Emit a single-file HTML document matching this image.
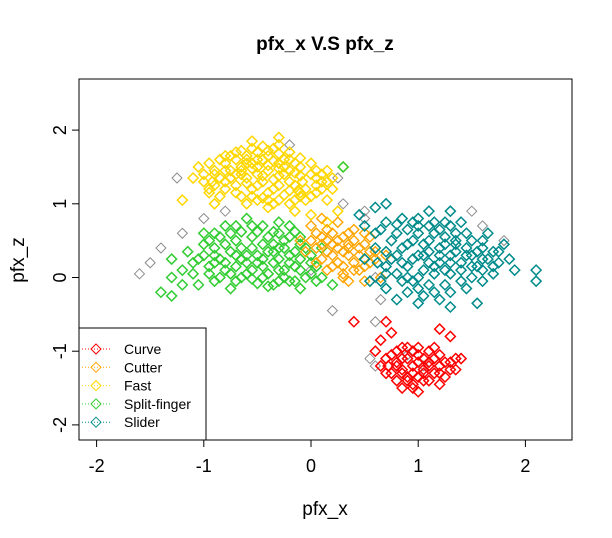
<!DOCTYPE html>
<html><head><meta charset="utf-8"><style>
body{margin:0;background:#fff;}
svg{display:block;font-family:"Liberation Sans",Arial,sans-serif;}
</style></head><body>
<svg id="chart" width="612" height="538">
<text x="325" y="50" text-anchor="middle" font-size="19" font-weight="bold">pfx_x V.S pfx_z</text>
<text x="325" y="515" text-anchor="middle" font-size="19">pfx_x</text>
<text transform="translate(24,260) rotate(-90)" text-anchor="middle" font-size="19">pfx_z</text>
<g id="marks"></g>
<rect x="79" y="79" width="493" height="361" fill="none" stroke="#000"/>
<g id="axes"></g>
<g id="legend"></g>
</svg>
<script>
const xTicks=[-2,-1,0,1,2];
const yTicks=[-2,-1,0,1,2];
const seriesNames=["Curve","Cutter","Fast","Split-finger","Slider"];
const seriesColors=["#FF0000","#FFA500","#FFD700","#32CD32","#008B8B"];
const grayPts=[[-1.25,1.35],[-1.6,0.05],[-1.5,0.2],[-1.4,0.4],[-1.2,0.6],[-1.0,0.8],[-0.8,0.9],[-0.2,1.8],[0.25,1.35],[0.3,1.0],[0.5,0.9],[0.5,0.8],[0.6,0.0],[0.65,-0.3],[0.6,-0.6],[0.55,-1.1],[0.6,-1.2],[1.8,0.5],[1.6,0.7],[1.5,0.9],[0.2,-0.45],[0.0,0.1],[-0.3,0.1],[-0.6,1.0],[0.9,-1.05],[1.05,-1.2]];
const fastPts=[[-0.9,1.45],[-0.8,1.55],[-0.7,1.6],[-0.6,1.65],[-0.5,1.7],[-0.4,1.72],[-0.3,1.68],[-0.2,1.6],[-0.1,1.5],[0.0,1.4],[0.1,1.3],[0.05,1.15],[-0.05,1.05],[-0.2,1.0],[-0.35,1.0],[-0.5,1.05],[-0.65,1.1],[-0.8,1.2],[-0.92,1.3],[-1.0,1.4],[-0.85,1.35],[-0.75,1.45],[-0.65,1.5],[-0.55,1.55],[-0.45,1.6],[-0.35,1.58],[-0.25,1.5],[-0.15,1.42],[-0.08,1.3],[-0.12,1.18],[-0.25,1.12],[-0.4,1.15],[-0.55,1.2],[-0.7,1.25],[-0.6,1.35],[-0.5,1.4],[-0.4,1.45],[-0.3,1.38],[-0.2,1.3],[-0.3,1.25],[-0.45,1.3],[-0.35,1.33],[-0.7,1.4],[-0.8,1.3],[-0.55,1.48],[-0.25,1.6],[-0.15,1.55],[0.05,1.25],[-0.95,1.2],[-0.7,1.7],[-0.45,1.78],[-0.3,1.8],[-0.6,1.0],[-0.4,0.95],[0.15,1.05],[0.2,1.2],[0.3,1.5],[-1.05,1.5],[-1.2,1.05],[-0.9,1.0],[-0.15,0.9],[0.0,0.85],[0.25,0.9],[0.15,0.75],[-0.3,1.9],[-0.55,1.85],
[-0.95,1.55],[-0.85,1.6],[-0.75,1.65],[-0.65,1.72],[-0.55,1.75],[-0.4,1.65],[-0.35,1.75],[-0.2,1.7],[-0.1,1.62],[0.0,1.55],[0.05,1.45],[0.1,1.4],[0.15,1.3],[0.1,1.2],[0.0,1.1],[-0.1,1.1],[-0.15,1.05],[-0.3,1.05],[-0.45,1.08],[-0.55,1.1],[-0.7,1.15],[-0.85,1.1],[-1.0,1.3],[-0.9,1.4],[-0.8,1.45],[-0.65,1.45],[-0.6,1.55],[-0.5,1.6],[-0.4,1.52],[-0.3,1.48],[-0.2,1.45],[-0.1,1.38],[-0.05,1.2],[-0.15,1.25],[-0.35,1.2],[-0.5,1.25],[-0.6,1.28],[-0.75,1.35],[-0.65,1.4],[-0.45,1.38],[-0.25,1.4],[-0.1,1.15],[-0.2,1.18],[-0.4,1.05],[-0.6,1.6],[-0.8,1.65],[-0.3,1.55],[-0.5,1.5],[0.05,1.35],[-0.9,1.25],[-0.95,1.15],[-1.1,1.35],[0.15,1.45],[0.2,1.35]];
const splitPts=[[-1.0,0.3],[-0.9,0.4],[-0.8,0.45],[-0.7,0.5],[-0.55,0.55],[-0.4,0.55],[-0.25,0.5],[-0.1,0.45],[0.0,0.3],[0.05,0.15],[-0.05,0.0],[-0.2,-0.05],[-0.35,-0.1],[-0.5,-0.08],[-0.65,0.0],[-0.8,0.1],[-0.95,0.15],[-0.85,0.25],[-0.7,0.3],[-0.6,0.2],[-0.5,0.3],[-0.4,0.35],[-0.3,0.25],[-0.2,0.3],[-0.15,0.15],[-0.3,0.1],[-0.45,0.15],[-0.55,0.4],[-0.35,0.45],[-0.7,0.15],[-0.25,0.0],[-0.45,0.0],[-0.6,0.05],[-1.1,0.2],[-1.2,0.1],[-1.3,0.0],[-1.4,-0.2],[-1.3,0.25],[-1.0,0.6],[-0.8,0.7],[-0.6,0.8],[-0.45,0.7],[-0.3,0.75],[0.1,0.0],[-0.1,-0.15],[-0.9,-0.05],[-1.05,-0.1],[-0.75,-0.15],[0.2,-0.1],[0.1,0.4],[-0.3,0.6],[-1.3,-0.25],[0.3,1.5],[-0.15,0.62],
[-1.0,0.45],[-0.95,0.5],[-0.85,0.55],[-0.75,0.6],[-0.65,0.62],[-0.5,0.62],[-0.35,0.62],[-0.2,0.55],[-0.05,0.4],[0.0,0.2],[0.0,0.05],[-0.1,0.1],[-0.15,-0.05],[-0.3,-0.05],[-0.4,-0.12],[-0.55,-0.02],[-0.7,-0.05],[-0.85,0.0],[-0.95,0.05],[-1.05,0.25],[-0.9,0.3],[-0.75,0.35],[-0.65,0.4],[-0.45,0.45],[-0.25,0.4],[-0.15,0.35],[-0.1,0.25],[-0.2,0.2],[-0.35,0.2],[-0.5,0.2],[-0.65,0.25],[-0.8,0.2],[-0.9,0.2],[-0.55,0.1],[-0.4,0.05],[-0.25,0.1],[-0.75,0.05],[-0.35,0.35],[-0.6,0.3],[-0.45,0.25],[-0.3,0.4],[-0.1,0.55],[-1.15,0.35],[-1.2,-0.1],[-1.1,0.05],[-0.55,0.7],[-0.7,0.7],[-0.9,0.6],[-0.2,0.7],[0.05,-0.05]];
const cutterPts=[[0.0,0.5],[0.1,0.55],[0.2,0.6],[0.3,0.55],[0.4,0.5],[0.5,0.45],[0.6,0.35],[0.55,0.2],[0.45,0.1],[0.3,0.05],[0.15,0.1],[0.05,0.2],[-0.05,0.35],[0.15,0.35],[0.25,0.4],[0.35,0.3],[0.45,0.3],[0.25,0.2],[0.1,0.45],[0.35,0.45],[0.2,0.3],[0.0,0.7],[0.1,0.8],[0.35,-0.05],[0.5,-0.05],[0.65,0.0],[0.7,0.3],[-0.1,0.5],[0.25,0.75],[0.4,0.65],[0.55,0.55],
[0.05,0.4],[0.15,0.5],[0.25,0.5],[0.35,0.4],[0.45,0.4],[0.55,0.35],[0.5,0.15],[0.4,0.2],[0.3,0.15],[0.2,0.15],[0.1,0.25],[0.2,0.45],[0.3,0.35],[0.4,0.1],[0.6,0.25],[0.05,0.6],[0.15,0.65],[0.35,0.6],[0.5,0.6],[0.3,0.0]];
const sliderPts=[[0.6,0.6],[0.7,0.75],[0.85,0.8],[1.0,0.8],[1.15,0.75],[1.3,0.7],[1.45,0.6],[1.6,0.5],[1.7,0.35],[1.75,0.2],[1.7,0.05],[1.6,-0.05],[1.45,-0.15],[1.3,-0.2],[1.15,-0.2],[1.0,-0.15],[0.85,-0.05],[0.7,0.05],[0.62,0.2],[0.6,0.4],[0.8,0.3],[0.9,0.45],[1.0,0.6],[1.1,0.5],[1.2,0.4],[1.3,0.3],[1.4,0.2],[1.5,0.3],[1.35,0.45],[1.2,0.2],[1.05,0.1],[0.9,0.15],[1.0,0.3],[1.1,0.35],[1.25,0.55],[1.15,0.05],[1.3,0.05],[1.45,0.4],[1.55,0.15],[0.75,0.5],[0.9,0.65],[0.5,0.7],[0.45,0.85],[0.6,0.95],[0.7,1.0],[1.3,0.9],[1.85,0.25],[1.9,0.1],[2.1,0.1],[2.1,-0.05],[1.8,0.45],[0.8,-0.3],[1.0,-0.35],[1.3,-0.4],[1.55,-0.35],[0.55,-0.05],[0.7,-0.15],[0.5,0.25],[1.65,0.6],[1.1,0.9],
[0.65,0.65],[0.8,0.72],[0.95,0.75],[1.1,0.7],[1.2,0.65],[1.35,0.6],[1.5,0.5],[1.6,0.4],[1.65,0.25],[1.6,0.1],[1.5,0.0],[1.4,-0.05],[1.25,-0.1],[1.1,-0.1],[0.95,-0.05],[0.8,0.05],[0.7,0.15],[0.7,0.35],[0.75,0.25],[0.85,0.4],[0.95,0.5],[1.05,0.45],[1.15,0.6],[1.25,0.45],[1.35,0.35],[1.45,0.3],[1.55,0.35],[1.4,0.1],[1.25,0.1],[1.1,0.2],[0.95,0.25],[0.85,0.2],[1.05,0.3],[1.2,0.3],[1.3,0.2],[1.15,0.15],[1.0,0.0],[0.9,0.0],[1.35,0.5],[1.5,0.15],[1.6,0.25],[1.7,0.15],[0.8,0.6],[1.0,0.7],[1.25,0.75],[1.4,0.75],[1.05,-0.25],[1.2,-0.3],[0.9,-0.2],[1.75,0.35],[0.65,-0.05]];
const curvePts=[[0.7,-1.1],[0.8,-1.0],[0.9,-0.95],[1.0,-0.95],[1.1,-1.0],[1.2,-1.05],[1.3,-1.15],[1.35,-1.25],[1.25,-1.35],[1.1,-1.4],[0.95,-1.45],[0.8,-1.4],[0.7,-1.3],[0.65,-1.2],[0.8,-1.2],[0.9,-1.1],[1.0,-1.15],[1.1,-1.2],[1.2,-1.2],[0.95,-1.3],[1.05,-1.3],[0.85,-1.3],[1.0,-1.05],[0.4,-0.6],[0.7,-0.6],[0.75,-0.75],[1.2,-0.7],[1.3,-0.8],[1.4,-1.1],[0.85,-1.5],[1.0,-1.55],[1.2,-1.45],[0.6,-1.0],[0.65,-0.85],
[0.75,-1.05],[0.85,-1.1],[0.95,-1.0],[1.05,-1.1],[1.15,-1.1],[1.25,-1.15],[1.3,-1.25],[1.2,-1.3],[1.05,-1.4],[0.9,-1.4],[0.75,-1.3],[0.72,-1.2],[0.85,-1.25],[0.95,-1.2],[1.05,-1.25],[1.15,-1.3],[0.9,-1.35],[1.1,-1.15],[0.8,-1.15],[1.0,-1.35],[0.85,-0.95],[1.15,-0.95],[0.95,-1.5],[1.35,-1.1]];

const NS="http://www.w3.org/2000/svg";
function sx(v){return 311+v*107.2;}
function sy(v){return 277.5-v*73.7;}
function mk(t,a,p){const e=document.createElementNS(NS,t);for(const k in a)e.setAttribute(k,a[k]);p.appendChild(e);return e;}
function diamond(cx,cy,c,p,w){return mk("polygon",{points:`${cx},${cy-5} ${cx+5},${cy} ${cx},${cy+5} ${cx-5},${cy}`,fill:"none",stroke:c,"stroke-width":w||1},p);}
const marks=document.getElementById("marks");
const groups=[[grayPts,"#8c8c8c","gray",1],[fastPts,seriesColors[2],"fast",1.5],[splitPts,seriesColors[3],"split-finger",1.5],[cutterPts,seriesColors[1],"cutter",1.4],[sliderPts,seriesColors[4],"slider",1.5],[curvePts,seriesColors[0],"curve",1.5]];
groups.forEach(g=>{g[0].forEach(pt=>{
  const d=diamond(sx(pt[0]),sy(pt[1]),g[1],marks,g[3]);
  
  
});});
const axes=document.getElementById("axes");
mk("line",{x1:sx(-2),x2:sx(2),y1:440,y2:440,stroke:"#000"},axes);
xTicks.forEach(t=>{
  mk("line",{x1:sx(t),x2:sx(t),y1:440,y2:447,stroke:"#000"},axes);
  const e=mk("text",{x:sx(t),y:472,"text-anchor":"middle","font-size":18},axes);e.textContent=t;
  
  
});
mk("line",{x1:79,x2:79,y1:sy(-2),y2:sy(2),stroke:"#000"},axes);
yTicks.forEach(t=>{
  mk("line",{x1:72,x2:79,y1:sy(t),y2:sy(t),stroke:"#000"},axes);
  const e=mk("text",{transform:`translate(66,${sy(t)}) rotate(-90)`,"text-anchor":"middle","font-size":18},axes);e.textContent=t;
  
  
});
const lg=document.getElementById("legend");


mk("rect",{x:79,y:328,width:127,height:112,fill:"#fff",stroke:"#000"},lg);
seriesNames.forEach((n,i)=>{
  const y=349+i*18.3;
  mk("line",{x1:82,x2:110,y1:y,y2:y,stroke:seriesColors[i],"stroke-dasharray":"1,2"},lg);
  diamond(96,y,seriesColors[i],lg);
  const e=mk("text",{x:124,y:y+5,"font-size":14},lg);e.textContent=n;
  
  
});
</script>
</body></html>
